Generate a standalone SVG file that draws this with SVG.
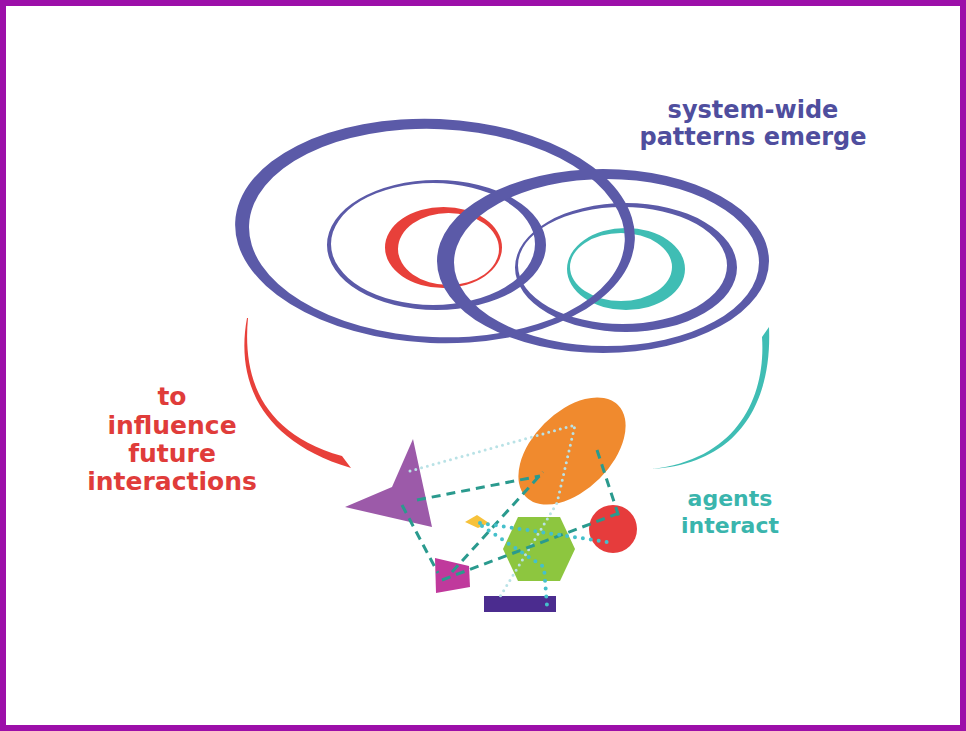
<svg xmlns="http://www.w3.org/2000/svg" width="966" height="731" viewBox="0 0 966 731">
<style>
.blue{fill:#5b5aa8;fill-rule:evenodd}
.red{fill:#e8403a;fill-rule:evenodd}
.teal{fill:#3fbdb4;fill-rule:evenodd}
.lbl{font-family:"DejaVu Sans","Verdana",sans-serif;font-weight:bold;text-anchor:middle}
.dash{fill:none;stroke:#2a9a8e;stroke-width:3;stroke-dasharray:9 6}
.dot{fill:none;stroke:#45c0cb;stroke-width:4;stroke-dasharray:0 8;stroke-linecap:round}
.pale{fill:none;stroke:#b9e2e6;stroke-width:3;stroke-dasharray:0 6;stroke-linecap:round}
</style>
<rect x="3" y="3" width="960" height="725" fill="#ffffff" stroke="#9c0fa9" stroke-width="6"/>

<g id="ring-red-core">
<path class="red" d="M385,247.5 A58.5,40.5 0 1 0 502,247.5 A58.5,40.5 0 1 0 385,247.5 Z M398,249 A50.5,36 0 1 0 499,249 A50.5,36 0 1 0 398,249 Z"/>
</g>
<g id="ring-teal-core">
<path class="teal" d="M567,269 A59,41 0 1 0 685,269 A59,41 0 1 0 567,269 Z M570,267 A51,34 0 1 0 672,267 A51,34 0 1 0 570,267 Z"/>
</g>
<g id="ring-left-big" transform="rotate(2.5 435 231)">
<path class="blue" d="M235,231 A200,112 0 1 0 635,231 A200,112 0 1 0 235,231 Z M249,233 A188,104 0 1 0 625,233 A188,104 0 1 0 249,233 Z"/>
</g>
<g id="ring-left-mid">
<path class="blue" d="M327,245 A109.5,65 0 1 0 546,245 A109.5,65 0 1 0 327,245 Z M331,244 A102,61 0 1 0 535,244 A102,61 0 1 0 331,244 Z"/>
</g>
<g id="ring-right-big">
<path class="blue" d="M437,261 A166,92 0 1 0 769,261 A166,92 0 1 0 437,261 Z M454,262.5 A152.5,83.5 0 1 0 759,262.5 A152.5,83.5 0 1 0 454,262.5 Z"/>
</g>
<g id="ring-right-mid">
<path class="blue" d="M515,267.5 A111,64.5 0 1 0 737,267.5 A111,64.5 0 1 0 515,267.5 Z M518,265.5 A104.5,58.5 0 1 0 727,265.5 A104.5,58.5 0 1 0 518,265.5 Z"/>
</g>

<g id="arrow-influence">
<path fill="#e8403a" d="M247,318 C237,372 252,438 351,468 L342,456 C257,432 243,372 248,318 Z"/>
</g>
<g id="arrow-interact">
<path fill="#3fbdb4" d="M769,327 C772,395 745,463 652,469 C739,459 766,395 762,337 Z"/>
</g>

<g id="label-emerge">
<text class="lbl" x="753" y="118" font-size="24" fill="#4f4e9e">system-wide</text>
<text class="lbl" x="753" y="145" font-size="24" fill="#4f4e9e">patterns emerge</text>
</g>
<g id="label-influence">
<text class="lbl" x="172" y="405" font-size="25" fill="#e03c3a">to</text>
<text class="lbl" x="172" y="434" font-size="25" fill="#e03c3a">influence</text>
<text class="lbl" x="172" y="462" font-size="25" fill="#e03c3a">future</text>
<text class="lbl" x="172" y="490" font-size="25" fill="#e03c3a">interactions</text>
</g>
<g id="label-interact">
<text class="lbl" x="730" y="506" font-size="22" fill="#3ab5ad">agents</text>
<text class="lbl" x="730" y="533" font-size="22" fill="#3ab5ad">interact</text>
</g>

<g id="agent-triangle"><polygon points="413,439 432,527 345,507 392,487" fill="#9c5aa9"/></g>
<g id="agent-orange"><ellipse cx="572" cy="451" rx="65" ry="39" transform="rotate(-45 572 451)" fill="#f08a2e"/></g>
<g id="agent-circle"><circle cx="613" cy="529" r="24" fill="#e63c3c"/></g>
<g id="agent-hexagon"><polygon points="503,549 518,517 560,517 575,549 560,581 518,581" fill="#8dc63f"/></g>
<g id="agent-diamond"><polygon points="465,522 477,515 489,523 478,528" fill="#f7c23b"/></g>
<g id="agent-quad"><polygon points="435,558 469,566 470,587 436,593" fill="#c0399c"/></g>
<g id="agent-bar"><rect x="484" y="596" width="72" height="16" fill="#4b2c8f"/></g>

<g id="connectors">
<polyline class="pale" points="410,471 575,425 557,503 498,600"/>
<line class="dash" x1="417" y1="500" x2="540" y2="476"/>
<line class="dash" x1="402" y1="505" x2="438" y2="573"/>
<line class="dash" x1="452" y1="572" x2="543" y2="472"/>
<line class="dash" x1="442" y1="580" x2="622" y2="512"/>
<line class="dash" x1="597" y1="450" x2="620" y2="520"/>
<line class="dot" x1="480" y1="523" x2="614" y2="543"/>
<polyline class="dot" points="482,526 544,567 547,606"/>
</g>
</svg>
